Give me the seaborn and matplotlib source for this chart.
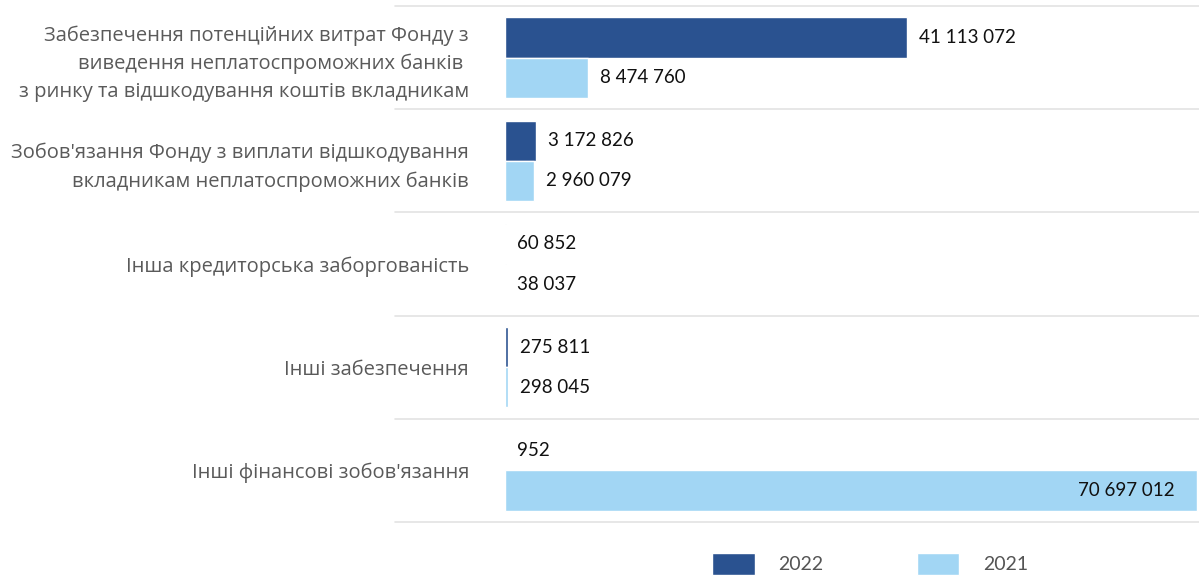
import pandas as pd
import matplotlib
matplotlib.use('Agg')
import matplotlib.pyplot as plt
from matplotlib.patches import Patch
import seaborn as sns

# data

categories = [
    'Забезпечення потенційних витрат Фонду з\nвиведення неплатоспроможних банків \nз ринку та відшкодування коштів вкладникам',
    "Зобов'язання Фонду з виплати відшкодування\nвкладникам неплатоспроможних банків",
    'Інша кредиторська заборгованість',
    'Інші забезпечення',
    "Інші фінансові зобов'язання",
]
values_2022 = [41113072, 3172826, 60852, 275811, 952]
values_2021 = [8474760, 2960079, 38037, 298045, 70697012]
years = ['2022', '2021']

dark_blue = '#2a5290'
light_blue = '#a2d6f4'

df = pd.DataFrame({
    'Category': categories * 2,
    'Value': values_2022 + values_2021,
    'Year': [years[0]] * len(categories) + [years[1]] * len(categories),
})

sns.set_style('white')
plt.rcParams['font.family'] = ['Lato', 'DejaVu Sans']

W, H = 1199, 577
fig = plt.figure(figsize=(W / 100, H / 100), dpi=100)
ax = fig.add_axes([505 / W, 1 - 522 / H, (W - 505) / W, (522 - 6) / H])

sns.barplot(
    data=df,
    x='Value',
    y='Category',
    hue='Year',
    palette=[dark_blue, light_blue],
    saturation=1,
    width=0.78,
    orient='h',
    ax=ax,
)

ax.set_xlim(0, max(values_2021 + values_2022) * (W - 505) / (1197 - 505))
ax.set_ylim(len(categories) - 0.5, -0.5)
ax.set_xlabel('')
ax.set_ylabel('')
ax.set_xticks([])
sns.despine(ax=ax, left=True, bottom=True, top=True, right=True)
ax.tick_params(axis='y', length=0, pad=26)
for lab in ax.get_yticklabels():
    lab.set_family(['Open Sans', 'DejaVu Sans'])
    lab.set_fontsize(14.5)
    lab.set_color('#5a5a5a')
    lab.set_linespacing(1.5)
    lab.set_multialignment('right')

# separator lines between categories
for i in range(len(categories) + 1):
    ax.axhline(i - 0.5, xmin=-0.159, xmax=1.01, color='#e3e3e3', lw=1.2, clip_on=False)

# value labels
xmax = ax.get_xlim()[1]
for container in ax.containers:
    for bar in container:
        w = bar.get_width()
        txt = f'{int(round(w)):,}'.replace(',', ' ')
        yc = bar.get_y() + bar.get_height() / 2
        if w > 0.9 * xmax:
            ax.annotate(txt, (w, yc), xytext=(-16, 0), textcoords='offset points',
                        ha='right', va='center', fontsize=13.5, color='#111111')
        else:
            ax.annotate(txt, (w, yc), xytext=(8.5, 0), textcoords='offset points',
                        ha='left', va='center', fontsize=13.5, color='#111111')

ax.get_legend().remove()
handles = [Patch(facecolor=dark_blue, label=years[0]),
           Patch(facecolor=light_blue, label=years[1])]
fig.legend(
    handles=handles,
    loc='center',
    bbox_to_anchor=(870 / W, 1 - 564 / H),
    ncol=2,
    frameon=False,
    fontsize=14,
    handlelength=2.2,
    handleheight=1.4,
    handletextpad=1.2,
    columnspacing=4.8,
    borderpad=0,
    labelcolor='#555555',
)

fig.savefig('out.png', dpi=100)
plt.close()
